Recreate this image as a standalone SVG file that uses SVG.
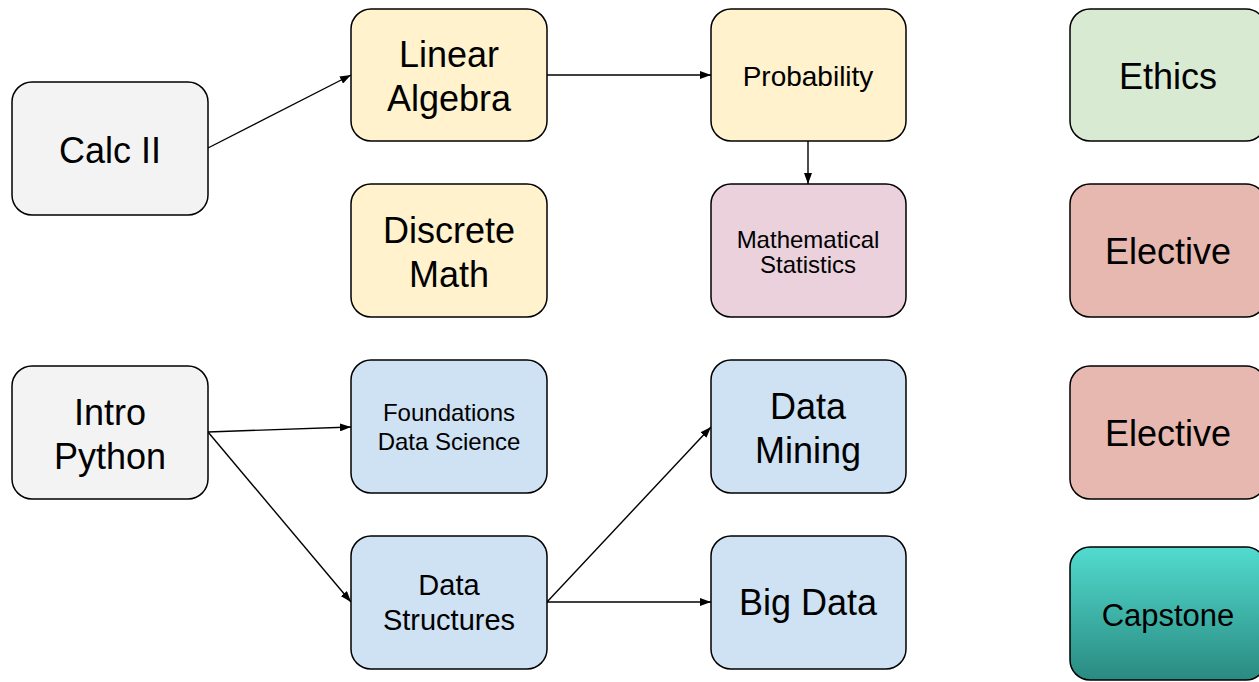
<svg xmlns="http://www.w3.org/2000/svg" width="1259" height="682" viewBox="0 0 1259 682">
<style>
.box{stroke:#000;stroke-width:1.5}
.t{font-family:"Liberation Sans",Arial,sans-serif;fill:#000;text-anchor:middle}
.c{stroke:#000;stroke-width:1.4;fill:none;marker-end:url(#ah)}
</style>
<defs>
<marker id="ah" viewBox="0 0 11 8" refX="11" refY="4" markerWidth="11" markerHeight="8" markerUnits="userSpaceOnUse" orient="auto">
<path d="M0,0 L11,4 L0,8 z" fill="#000"/>
</marker>
<linearGradient id="cap" x1="0" y1="0" x2="0" y2="1">
<stop offset="0" stop-color="#52dbcf"/>
<stop offset="1" stop-color="#2a8a80"/>
</linearGradient>
</defs>
<rect width="1259" height="682" fill="#fff"/>
<g id="connectors">
<line class="c" x1="208" y1="148" x2="351" y2="75"/>
<line class="c" x1="547" y1="75" x2="711" y2="75"/>
<line class="c" x1="808" y1="141" x2="808" y2="184"/>
<line class="c" x1="208" y1="432" x2="351" y2="427"/>
<line class="c" x1="208" y1="432" x2="351" y2="602"/>
<line class="c" x1="547" y1="602" x2="711" y2="427"/>
<line class="c" x1="547" y1="602" x2="711" y2="602"/>
</g>
<g id="calc2"><rect class="box" x="12" y="82" width="196" height="133" rx="20" fill="#f3f3f3"/><text class="t" x="110" y="163" font-size="36">Calc II</text></g>
<g id="linalg"><rect class="box" x="351" y="9" width="196" height="132" rx="20" fill="#fff2cc"/><text class="t" x="449" y="67" font-size="36">Linear</text><text class="t" x="449" y="111" font-size="36">Algebra</text></g>
<g id="discrete"><rect class="box" x="351" y="184" width="196" height="133" rx="20" fill="#fff2cc"/><text class="t" x="449" y="243" font-size="36">Discrete</text><text class="t" x="449" y="287" font-size="36">Math</text></g>
<g id="prob"><rect class="box" x="711" y="9" width="195" height="132" rx="20" fill="#fff2cc"/><text class="t" x="808" y="86" font-size="28">Probability</text></g>
<g id="mathstats"><rect class="box" x="711" y="184" width="195" height="133" rx="20" fill="#ead1dc"/><text class="t" x="808" y="248" font-size="24">Mathematical</text><text class="t" x="808" y="273" font-size="24">Statistics</text></g>
<g id="ethics"><rect class="box" x="1070" y="9" width="196" height="132" rx="20" fill="#d9ead3"/><text class="t" x="1168" y="89" font-size="36">Ethics</text></g>
<g id="elective1"><rect class="box" x="1070" y="184" width="196" height="133" rx="20" fill="#e6b8af"/><text class="t" x="1168" y="264" font-size="36">Elective</text></g>
<g id="intropy"><rect class="box" x="12" y="366" width="196" height="133" rx="20" fill="#f3f3f3"/><text class="t" x="110" y="425" font-size="36">Intro</text><text class="t" x="110" y="469" font-size="36">Python</text></g>
<g id="foundations"><rect class="box" x="351" y="360" width="196" height="133" rx="20" fill="#cfe2f3"/><text class="t" x="449" y="421" font-size="24">Foundations</text><text class="t" x="449" y="450" font-size="24">Data Science</text></g>
<g id="datastruct"><rect class="box" x="351" y="536" width="196" height="133" rx="20" fill="#cfe2f3"/><text class="t" x="449" y="595" font-size="29">Data</text><text class="t" x="449" y="630" font-size="29">Structures</text></g>
<g id="datamining"><rect class="box" x="711" y="360" width="195" height="133" rx="20" fill="#cfe2f3"/><text class="t" x="808" y="419" font-size="36">Data</text><text class="t" x="808" y="463" font-size="36">Mining</text></g>
<g id="bigdata"><rect class="box" x="711" y="536" width="195" height="133" rx="20" fill="#cfe2f3"/><text class="t" x="808" y="615" font-size="36">Big Data</text></g>
<g id="elective2"><rect class="box" x="1070" y="366" width="196" height="133" rx="20" fill="#e6b8af"/><text class="t" x="1168" y="446" font-size="36">Elective</text></g>
<g id="capstone"><rect class="box" x="1070" y="547" width="196" height="133" rx="20" fill="url(#cap)"/><text class="t" x="1168" y="626" font-size="31">Capstone</text></g>
</svg>
